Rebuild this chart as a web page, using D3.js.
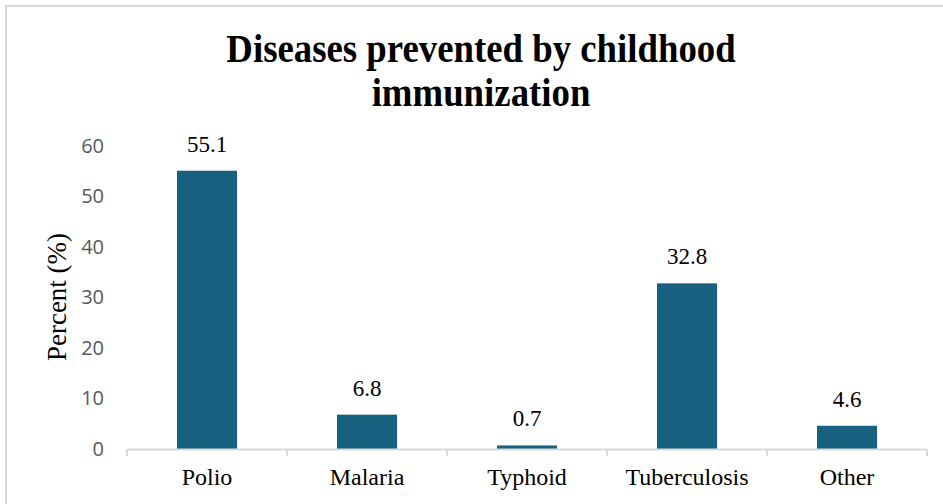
<!DOCTYPE html>
<html>
<head>
<meta charset="utf-8">
<script src="https://cdn.jsdelivr.net/npm/d3@7"></script>
<style>
  body { margin: 0; background: #fff; }
  svg { display: block; }
</style>
</head>
<body>
<svg id="chart" width="943" height="504"></svg>
<script>
// data
var diseases = ['Polio', 'Malaria', 'Typhoid', 'Tuberculosis', 'Other']
var percents = [55.1, 6.8, 0.7, 32.8, 4.6]
var yTicks = [0, 10, 20, 30, 40, 50, 60]
var titleLines = ['Diseases prevented by childhood', 'immunization']

var barColor = '#17607f'
var axisColor = '#d9d9d9'
var serif = '"Liberation Serif", "Times New Roman", serif'

var svg = d3.select('#chart')

// light frame, only left and top edge are in view
svg.append('rect')
  .attr('x', 6).attr('y', 6)
  .attr('width', 1100).attr('height', 700)
  .attr('fill', 'none')
  .attr('stroke', axisColor)
  .attr('stroke-width', 2)

var data = diseases.map(function (d, i) { return { name: d, value: percents[i] } })

var x = d3.scaleBand().domain(diseases).range([127, 927]).paddingInner(0.625).paddingOuter(0.3125)
var y = d3.scaleLinear().domain([0, 60]).range([449, 146])

// title, a bit condensed like the original
svg.append('text')
  .attr('transform', 'translate(481,62) scale(0.92,1)')
  .attr('text-anchor', 'middle')
  .style('font-family', serif).style('font-weight', 'bold').style('font-size', '40px')
  .selectAll('tspan')
  .data(titleLines)
  .join('tspan')
  .attr('x', 0)
  .attr('dy', function (d, i) { return i == 0 ? 0 : 44 })
  .text(function (d) { return d })

// y axis, labels only
var yAxis = d3.axisLeft(y).tickValues(yTicks).tickSize(0).tickPadding(23)
var gy = svg.append('g').attr('transform', 'translate(127,0)').call(yAxis)
gy.select('.domain').remove()
gy.selectAll('text')
  .style('font-family', '"Open Sans", sans-serif')
  .style('font-size', '20px')
  .attr('fill', '#595959')

// bars
svg.append('g').selectAll('rect')
  .data(data)
  .join('rect')
  .attr('x', function (d) { return x(d.name) })
  .attr('y', function (d) { return y(d.value) })
  .attr('width', x.bandwidth())
  .attr('height', function (d) { return y(0) - y(d.value) })
  .attr('fill', barColor)

// value labels
svg.append('g').selectAll('text')
  .data(data)
  .join('text')
  .attr('x', function (d) { return x(d.name) + x.bandwidth() / 2 })
  .attr('y', function (d) { return y(d.value) - 19 })
  .attr('text-anchor', 'middle')
  .style('font-family', serif).style('font-size', '23px')
  .attr('fill', '#000')
  .text(function (d) { return d.value.toFixed(1) })

// x axis
var xAxis = d3.axisBottom(x).tickSize(0).tickPadding(19)
var gx = svg.append('g').attr('transform', 'translate(0,449)').call(xAxis)
gx.select('.domain').attr('stroke', axisColor).attr('stroke-width', 2)
gx.selectAll('text')
  .style('font-family', serif)
  .style('font-size', '24px')
  .attr('fill', '#000')

// category boundary ticks
var edges = diseases.map(function (d) { return x(d) - (x.step() - x.bandwidth()) / 2 })
edges.push(x.range()[1])
gx.selectAll('line.edge')
  .data(edges)
  .join('line')
  .attr('class', 'edge')
  .attr('x1', function (d) { return d }).attr('x2', function (d) { return d })
  .attr('y1', 0).attr('y2', 7)
  .attr('stroke', axisColor)
  .attr('stroke-width', 2)

// y axis title
svg.append('text')
  .attr('transform', 'translate(66,297) rotate(-90)')
  .attr('text-anchor', 'middle')
  .style('font-family', serif).style('font-size', '27px')
  .attr('fill', '#000')
  .text('Percent (%)')
</script>
</body>
</html>
